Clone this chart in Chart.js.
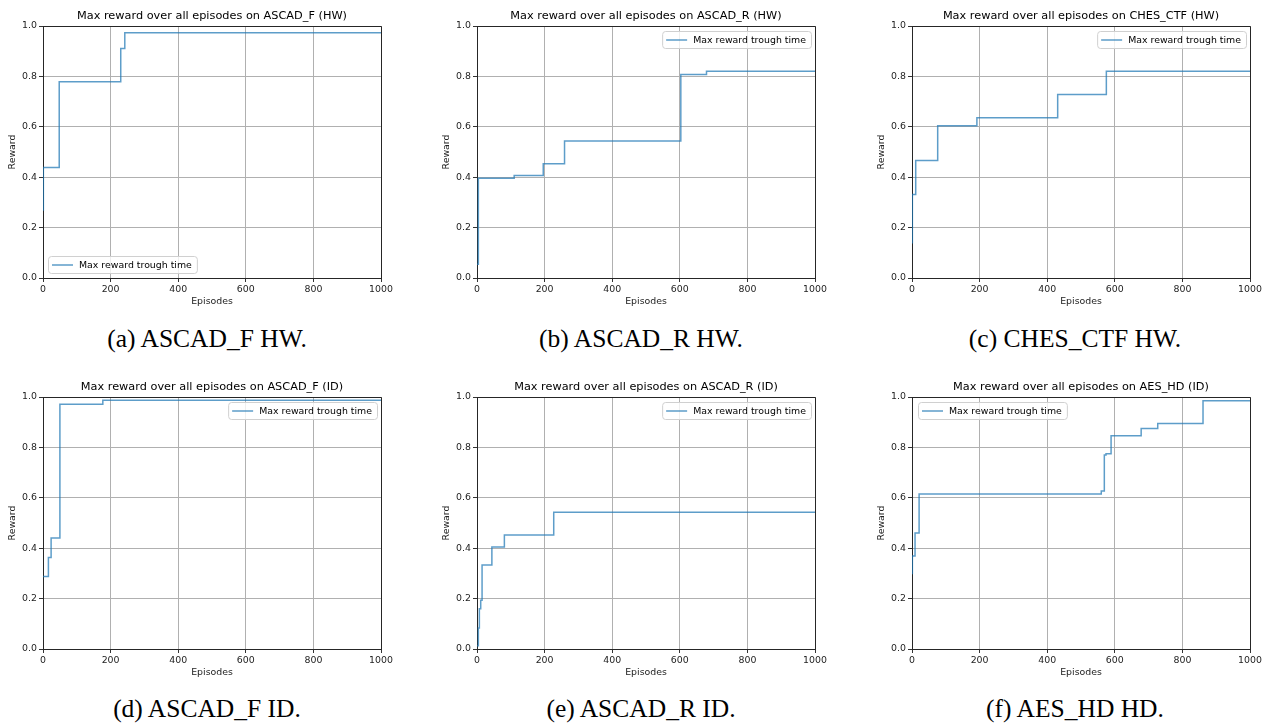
<!DOCTYPE html>
<html>
<head>
<meta charset="utf-8">
<script src="https://cdn.jsdelivr.net/npm/chart.js@4.4.0/dist/chart.umd.min.js"></script>
<style>
  body { margin: 0; background: #fff; width: 1266px; height: 724px; overflow: hidden; position: relative; }
  canvas { position: absolute; }
  .cap { position: absolute; width: 400px; text-align: center; font-family: "Liberation Serif", serif; font-size: 25.5px; color: #000; }
</style>
</head>
<body>
<canvas id="c1" width="424" height="310"></canvas>
<canvas id="c2" width="424" height="310"></canvas>
<canvas id="c3" width="424" height="310"></canvas>
<canvas id="c4" width="424" height="310"></canvas>
<canvas id="c5" width="424" height="310"></canvas>
<canvas id="c6" width="424" height="310"></canvas>
<div class="cap" style="left:7px;top:324px">(a) ASCAD_F HW.</div>
<div class="cap" style="left:441px;top:324px">(b) ASCAD_R HW.</div>
<div class="cap" style="left:875px;top:324px">(c) CHES_CTF HW.</div>
<div class="cap" style="left:7px;top:694px">(d) ASCAD_F ID.</div>
<div class="cap" style="left:441px;top:694px">(e) ASCAD_R ID.</div>
<div class="cap" style="left:875px;top:694px">(f) AES_HD HD.</div>
<script>
// axis ticks
const xTicks = [0, 200, 400, 600, 800, 1000];
const yTicks = [0, 0.2, 0.4, 0.6, 0.8, 1.0];

// episodes where the max reward changes, and the reward from there on
const ascadfHwEps = [0, 1, 48, 230, 242, 1000];
const ascadfHwRew = [0.27, 0.438, 0.779, 0.911, 0.973, 0.973];

const ascadrHwEps = [0, 4, 110, 196, 259, 603, 679, 1000];
const ascadrHwRew = [0.055, 0.396, 0.407, 0.453, 0.544, 0.808, 0.82, 0.82];

const chesHwEps = [0, 1, 11, 76, 192, 431, 575, 1000];
const chesHwRew = [0.14, 0.331, 0.466, 0.604, 0.636, 0.728, 0.82, 0.82];

const ascadfIdEps = [0, 16, 24, 50, 177, 1000];
const ascadfIdRew = [0.288, 0.363, 0.44, 0.971, 0.987, 0.987];

const ascadrIdEps = [0, 4, 7, 11, 15, 44, 81, 227, 1000];
const ascadrIdRew = [0.013, 0.083, 0.16, 0.193, 0.333, 0.405, 0.452, 0.543, 0.543];

const aeshdIdEps = [0, 1, 9, 21, 560, 569, 574, 589, 678, 727, 861, 1000];
const aeshdIdRew = [0.3, 0.369, 0.46, 0.615, 0.627, 0.77, 0.775, 0.846, 0.875, 0.895, 0.985, 0.985];

const legendLabel = "Max reward trough time";
const lineColor = "rgba(31,119,180,0.72)";
const font = "DejaVu Sans";
const small = 9.4;

const framePlugin = {
  id: "frame",
  afterDraw(chart, args, opts) {
    const { ctx, chartArea: a } = chart;
    ctx.save();
    // top and right spines
    ctx.strokeStyle = "#262626";
    ctx.lineWidth = 1;
    ctx.beginPath();
    ctx.moveTo(a.left, a.top + 0.5);
    ctx.lineTo(a.right + 0.5, a.top + 0.5);
    ctx.lineTo(a.right + 0.5, a.bottom);
    ctx.stroke();
    // title centred over the plot
    ctx.fillStyle = "#000";
    ctx.font = "11.3px " + font;
    ctx.textAlign = "center";
    ctx.textBaseline = "middle";
    ctx.fillText(opts.title, (a.left + a.right) / 2, a.top - 10);
    // legend box
    ctx.font = small + "px " + font;
    const tw = ctx.measureText(legendLabel).width;
    const w = 4 + 21 + 6 + tw + 5, h = 17;
    let x, y;
    if (opts.legend === "lower left") { x = a.left + 5; y = a.bottom - 5 - h; }
    else if (opts.legend === "upper left") { x = a.left + 6; y = a.top + 5; }
    else { x = a.right - 4 - w; y = a.top + 5; }
    ctx.fillStyle = "rgba(255,255,255,0.8)";
    ctx.strokeStyle = "#d0d0d0";
    ctx.beginPath();
    ctx.roundRect(x + 0.5, y + 0.5, w, h, 3);
    ctx.fill();
    ctx.stroke();
    ctx.strokeStyle = lineColor;
    ctx.lineWidth = 1.5;
    ctx.beginPath();
    ctx.moveTo(x + 4, y + h / 2 + 0.5);
    ctx.lineTo(x + 25, y + h / 2 + 0.5);
    ctx.stroke();
    ctx.fillStyle = "#000";
    ctx.textAlign = "left";
    ctx.fillText(legendLabel, x + 31, y + h / 2 + 1);
    ctx.restore();
  },
};

function makeChart(id, left, top, title, eps, rew, legend) {
  const el = document.getElementById(id);
  el.style.left = left + "px";
  el.style.top = top + "px";
  new Chart(el, {
    type: "line",
    data: {
      datasets: [{
        label: legendLabel,
        data: eps.map((e, i) => ({ x: e, y: rew[i] })),
        stepped: true,
        borderColor: lineColor,
        borderWidth: 1.5,
        pointRadius: 0,
        fill: false,
      }],
    },
    options: {
      responsive: false,
      animation: false,
      layout: { padding: { top: 24, right: 43, left: 0, bottom: 0 } },
      scales: {
        x: {
          type: "linear",
          min: 0,
          max: 1000,
          afterBuildTicks: (s) => { s.ticks = xTicks.map((v) => ({ value: v })); },
          afterFit: (s) => { s.height = 34; },
          ticks: { color: "#222", font: { family: font, size: small }, padding: 2, maxRotation: 0, callback: (v) => String(v) },
          grid: { color: "#b0b0b0", lineWidth: 1, tickLength: 4, tickColor: "#333" },
          border: { color: "#262626", width: 1 },
          title: { display: true, text: "Episodes", color: "#222", font: { family: font, size: small }, padding: { top: 0, bottom: 5 } },
        },
        y: {
          min: 0,
          max: 1,
          afterBuildTicks: (s) => { s.ticks = yTicks.map((v) => ({ value: v })); },
          afterFit: (s) => { s.width = 43; },
          ticks: { color: "#222", font: { family: font, size: small }, padding: 2, callback: (v) => v.toFixed(1) },
          grid: { color: "#b0b0b0", lineWidth: 1, tickLength: 4, tickColor: "#333" },
          border: { color: "#262626", width: 1 },
          title: { display: true, text: "Reward", color: "#222", font: { family: font, size: small }, padding: { top: 7, bottom: 0 } },
        },
      },
      plugins: {
        legend: { display: false },
        tooltip: { enabled: false },
        frame: { title: title, legend: legend },
      },
    },
    plugins: [framePlugin],
  });
}

makeChart("c1", 0, 2, "Max reward over all episodes on ASCAD_F (HW)", ascadfHwEps, ascadfHwRew, "lower left");
makeChart("c2", 434, 2, "Max reward over all episodes on ASCAD_R (HW)", ascadrHwEps, ascadrHwRew, "upper right");
makeChart("c3", 869, 2, "Max reward over all episodes on CHES_CTF (HW)", chesHwEps, chesHwRew, "upper right");
makeChart("c4", 0, 373, "Max reward over all episodes on ASCAD_F (ID)", ascadfIdEps, ascadfIdRew, "upper right");
makeChart("c5", 434, 373, "Max reward over all episodes on ASCAD_R (ID)", ascadrIdEps, ascadrIdRew, "upper right");
makeChart("c6", 869, 373, "Max reward over all episodes on AES_HD (ID)", aeshdIdEps, aeshdIdRew, "upper left");
</script>
</body>
</html>
